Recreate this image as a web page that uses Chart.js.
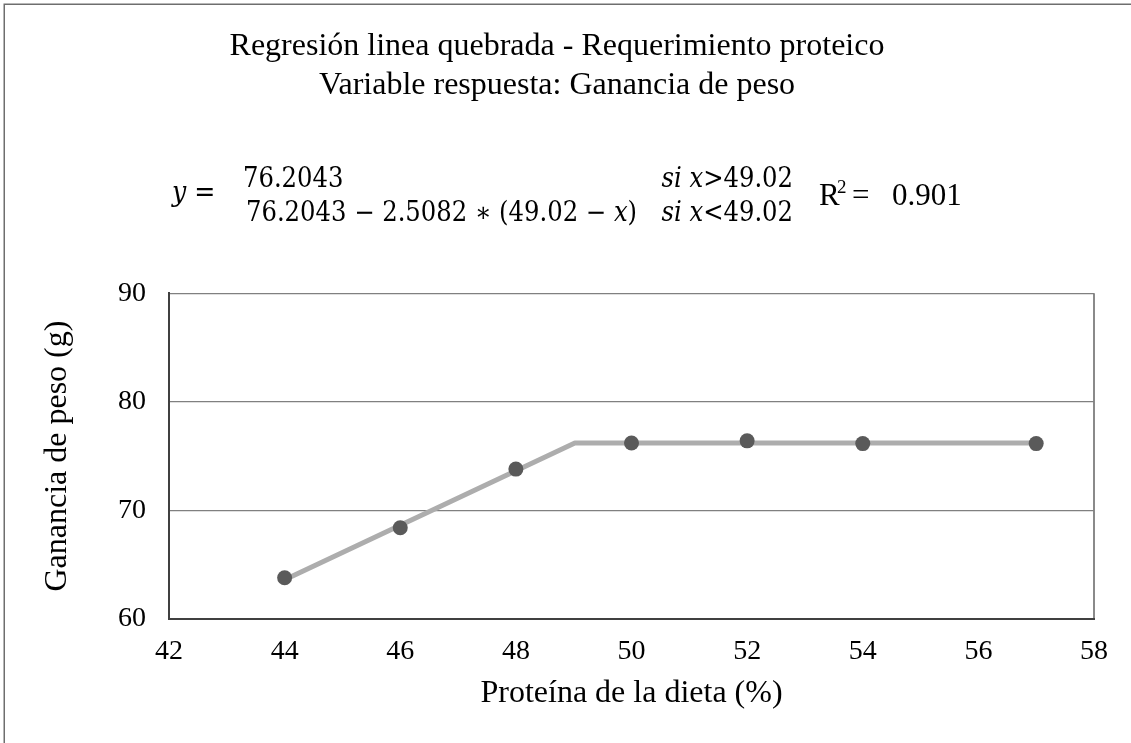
<!DOCTYPE html>
<html>
<head>
<meta charset="utf-8">
<script src="https://cdn.jsdelivr.net/npm/chart.js@4/dist/chart.umd.min.js"></script>
<style>
  html, body { margin: 0; padding: 0; background: #fff; }
  canvas { display: block; }
</style>
</head>
<body>
<canvas id="grafico" width="1131" height="743"></canvas>
<script>
// Observed weight gain per dietary protein level
const proteina = [44, 46, 48, 50, 52, 54, 57];
const ganancia = [63.8, 68.4, 73.8, 76.2, 76.4, 76.15, 76.15];

// Broken-line fit: rising segment up to the break point, plateau after it
const ajusteX = [44, 49.02, 57];
const ajusteY = [63.613, 76.2043, 76.2043];

// Axis ticks
const ticksX = [42, 44, 46, 48, 50, 52, 54, 56, 58];
const ticksY = [60, 70, 80, 90];

const titulo = [
  'Regresión linea quebrada - Requerimiento proteico',
  'Variable respuesta: Ganancia de peso'
];

const serif = '"Liberation Serif", "Times New Roman", serif';
const mathFam = '"DejaVu Serif Condensed", "DejaVu Serif", serif';

// draws consecutive text pieces, each with its own font
function tramo(ctx, x, y, piezas) {
  for (const [t, f] of piezas) {
    ctx.font = f;
    ctx.fillText(t, x, y);
    x += ctx.measureText(t).width;
  }
  return x;
}
function ancho(ctx, piezas) {
  let w = 0;
  for (const [t, f] of piezas) { ctx.font = f; w += ctx.measureText(t).width; }
  return w;
}

const marcoYEcuacion = {
  id: 'marcoYEcuacion',
  beforeDraw(chart) {
    const ctx = chart.ctx;
    ctx.save();
    ctx.fillStyle = '#ffffff';
    ctx.fillRect(0, 0, chart.width, chart.height);
    ctx.strokeStyle = '#6e6e6e';
    ctx.lineWidth = 1.5;
    ctx.beginPath();
    ctx.moveTo(4.25, chart.height);
    ctx.lineTo(4.25, 4.25);
    ctx.lineTo(chart.width, 4.25);
    ctx.stroke();
    ctx.restore();
  },
  afterDraw(chart) {
    const ctx = chart.ctx;
    ctx.save();
    ctx.fillStyle = '#000';
    ctx.textBaseline = 'alphabetic';
    ctx.textAlign = 'left';
    const up = '27px ' + mathFam;
    const it = 'italic 27px ' + mathFam;
    const big = '28px ' + mathFam;
    const bigIt = 'italic 28px ' + mathFam;

    // y =
    tramo(ctx, 172, 201, [['y', bigIt], [' =', big]]);

    // first branch
    tramo(ctx, 243, 187, [['76.2043', up]]);
    const cond1 = [['si x', it], ['>49.02', up]];
    tramo(ctx, 793 - ancho(ctx, cond1), 187, cond1);

    // second branch
    tramo(ctx, 246, 221, [['76.2043 − 2.5082 ∗ (49.02 − ', up], ['x', it], [')', up]]);
    const cond2 = [['si x', it], ['<49.02', up]];
    tramo(ctx, 793 - ancho(ctx, cond2), 221, cond2);

    // R²
    ctx.font = '31px ' + serif;
    ctx.fillText('R', 819, 205);
    ctx.font = '19px ' + serif;
    ctx.fillText('2', 837, 193);
    ctx.font = '31px ' + serif;
    ctx.fillText('=', 852, 205);
    ctx.fillText('0.901', 892, 205);
    ctx.restore();
  }
};

const negro = '#000000';

new Chart(document.getElementById('grafico'), {
  type: 'scatter',
  data: {
    datasets: [
      {
        label: 'Ganancia observada',
        data: proteina.map((x, i) => ({ x, y: ganancia[i] })),
        pointRadius: 7.5,
        pointHoverRadius: 7.5,
        pointBackgroundColor: '#5a5a5a',
        pointBorderColor: '#5a5a5a',
        pointBorderWidth: 0,
        showLine: false
      },
      {
        label: 'Línea quebrada',
        data: ajusteX.map((x, i) => ({ x, y: ajusteY[i] })),
        showLine: true,
        borderColor: '#adadad',
        borderWidth: 5,
        borderJoinStyle: 'round',
        pointRadius: 0,
        pointHoverRadius: 0,
        tension: 0
      }
    ]
  },
  options: {
    responsive: false,
    animation: false,
    devicePixelRatio: 1,
    layout: { padding: { left: 20, top: 0, right: 37, bottom: 20 } },
    plugins: {
      legend: { display: false },
      tooltip: { enabled: false },
      title: {
        display: true,
        text: titulo,
        color: negro,
        font: { family: serif, size: 32, weight: 'normal', lineHeight: 1.19 },
        padding: { top: 28, bottom: 189 }
      }
    },
    scales: {
      x: {
        type: 'linear',
        min: ticksX[0],
        max: ticksX[ticksX.length - 1],
        afterBuildTicks(s) { s.ticks = ticksX.map(v => ({ value: v })); },
        ticks: { color: negro, font: { family: serif, size: 28 }, padding: 16 },
        grid: {
          drawTicks: false,
          color: c => (c.tick && c.tick.value === ticksX[ticksX.length - 1]) ? '#8a8a8a' : 'rgba(0,0,0,0)',
          lineWidth: 2
        },
        border: { color: '#404040', width: 2 },
        title: {
          display: true,
          text: 'Proteína de la dieta (%)',
          color: negro,
          font: { family: serif, size: 32 },
          padding: { top: 0, bottom: 10 }
        },
        afterFit(s) { s.height = 104; }
      },
      y: {
        type: 'linear',
        min: ticksY[0],
        max: ticksY[ticksY.length - 1],
        afterBuildTicks(s) { s.ticks = ticksY.map(v => ({ value: v })); },
        ticks: { color: negro, font: { family: serif, size: 28 }, padding: 23 },
        grid: { drawTicks: false, color: '#808080', lineWidth: 1.3 },
        border: { color: '#404040', width: 2 },
        title: {
          display: true,
          text: 'Ganancia de peso (g)',
          color: negro,
          font: { family: serif, size: 32 },
          padding: { top: 18, bottom: 0 }
        },
        afterFit(s) { s.width = 149; }
      }
    }
  },
  plugins: [marcoYEcuacion]
});
</script>
</body>
</html>
